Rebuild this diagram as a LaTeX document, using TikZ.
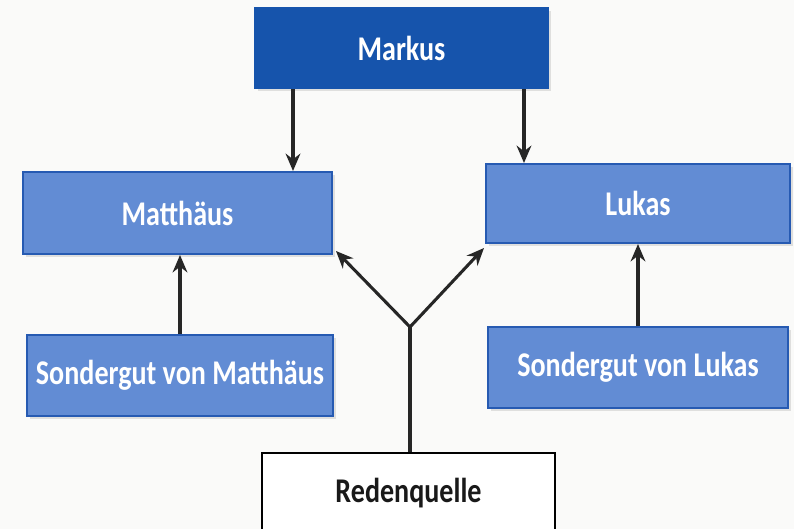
\documentclass[tikz,border=0pt]{standalone}
\usepackage{fontspec}
\setmainfont{Carlito}
\usepackage{xcolor}
\usepackage{tikz}
\usetikzlibrary{arrows.meta, calc, shadows}
\definecolor{darkbox}{RGB}{22,84,172}
\definecolor{lightbox}{RGB}{98,140,212}
\definecolor{boxedge}{RGB}{38,90,178}
\definecolor{paper}{RGB}{250,250,249}
\newcommand{\boxtxt}[1]{\scalebox{0.81}[1]{#1}}

\begin{document}
\begin{tikzpicture}[x=0.75pt, y=-0.75pt,
  n/.style={draw=boxedge, line width=1.5pt, fill=lightbox, text=white,
    font=\fontsize{26}{28}\selectfont\bfseries, inner sep=0pt,
    drop shadow={shadow xshift=2pt, shadow yshift=-2.5pt, opacity=0.22}},
  top/.style={n, fill=darkbox, draw=darkbox},
  src/.style={draw=black, line width=1.5pt, fill=white, text=black!90,
    font=\fontsize{26}{28}\selectfont\bfseries, inner sep=0pt},
  conn/.style={line width=2.3pt, black!85},
  >={Stealth[length=13pt, width=11pt]}]
\useasboundingbox[fill=paper] (0,0) rectangle (794,529);
\node[top, minimum width=219.75pt, minimum height=60pt] (mar) at (401.5,48) {\boxtxt{Markus}};
\node[n, minimum width=231.75pt, minimum height=61.5pt] (mat) at (177.5,213) {\boxtxt{Matthäus}};
\node[n, minimum width=228pt, minimum height=59.25pt] (luk) at (638,203.5) {\boxtxt{Lukas}};
\node[n, minimum width=229.5pt, minimum height=60.75pt] (sgm) at (180,375.5) {\boxtxt{Sondergut von Matthäus}};
\node[n, minimum width=225pt, minimum height=60.75pt] (sgl) at (638,367.5) {\boxtxt{Sondergut von Lukas}};
\node[src, minimum width=219.75pt, minimum height=60pt] (red) at (408.5,493) {\boxtxt{Redenquelle}};
\coordinate (ml) at (293,0);
\coordinate (mr) at (524,0);
\coordinate (j) at (410,327);
\coordinate (tl) at ($(mat.south east)+(3,-4)$);
\coordinate (tr) at ($(luk.south west)+(-1,4)$);
% Markus -> Matthaeus, Lukas
\draw[conn, ->] (mar.south -| ml) -- (mat.north -| ml);
\draw[conn, ->] (mar.south -| mr) -- (luk.north -| mr);
% Sondergut
\draw[conn, ->] (sgm.north) -- (sgm.north |- mat.south);
\draw[conn, ->] (sgl.north) -- (sgl.north |- luk.south);
% Redenquelle
\draw[conn] (red.north -| j) -- (j);
\draw[conn, ->] (j) -- (tl);
\draw[conn, ->] (j) -- (tr);
\end{tikzpicture}
\end{document}
